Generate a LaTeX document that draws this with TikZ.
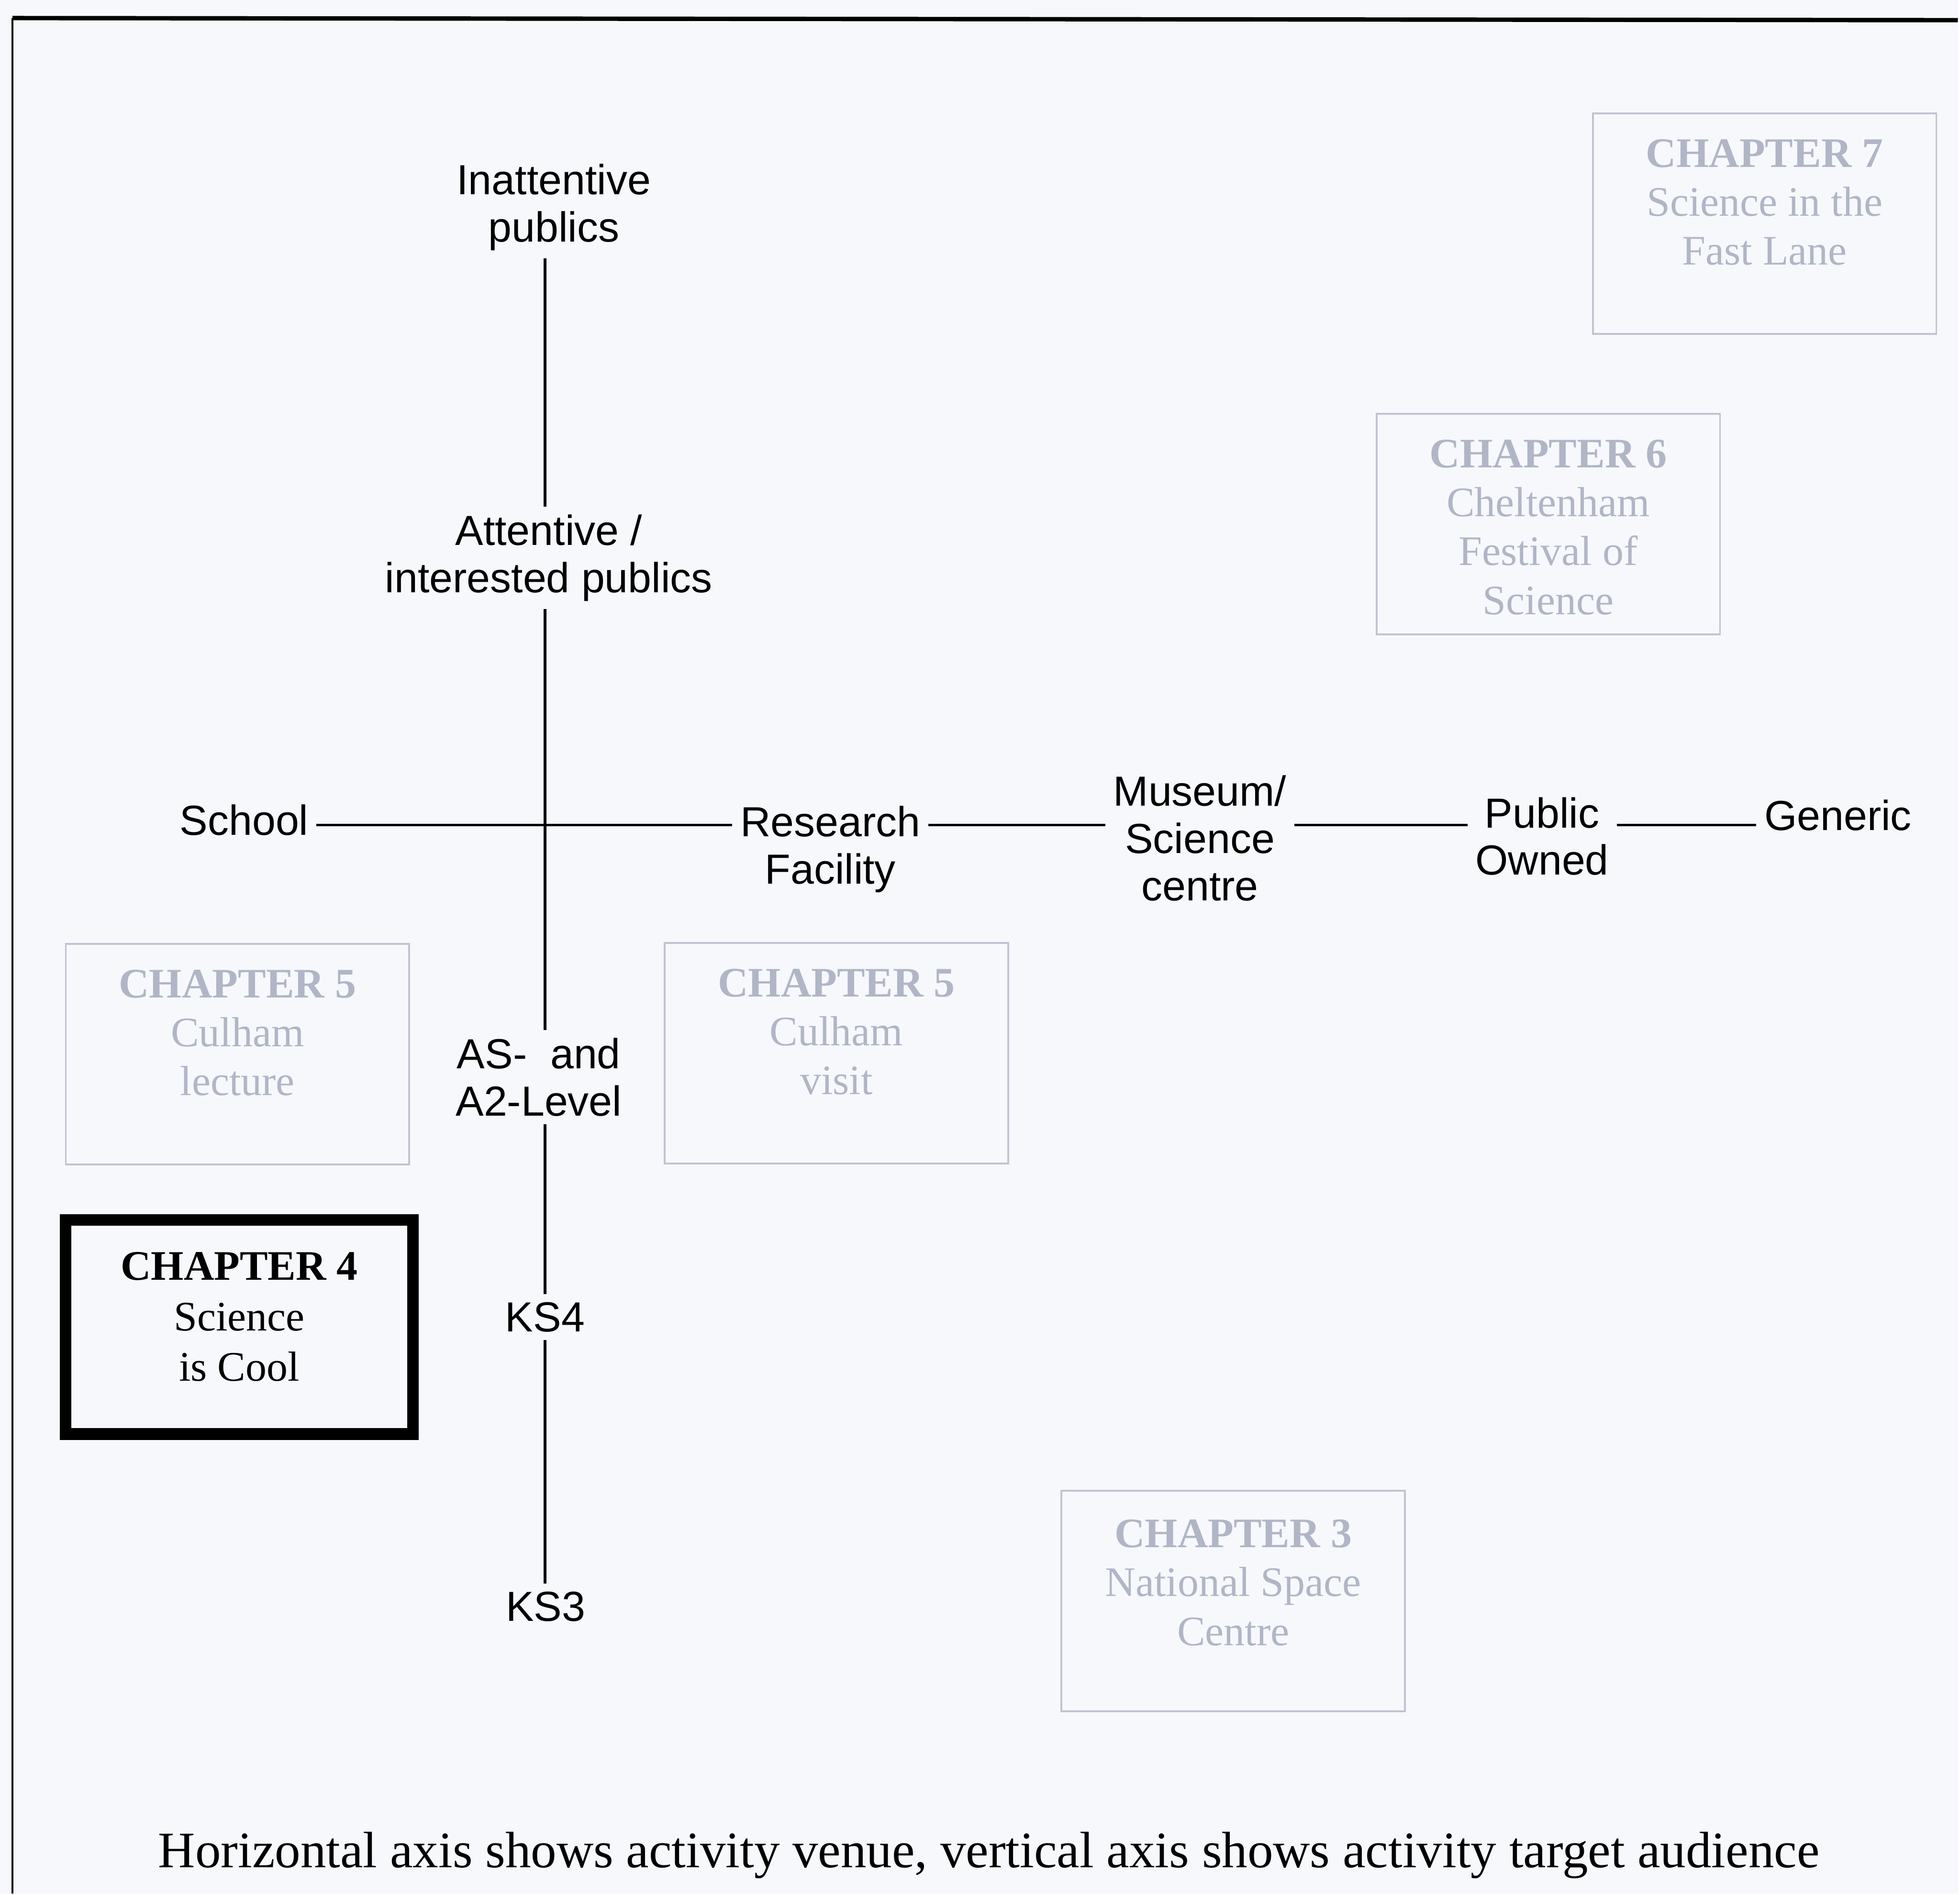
\documentclass[tikz,border=0pt]{standalone}
\usepackage{fontspec}
\setmainfont{Liberation Serif}
\setsansfont{Liberation Sans}
\usetikzlibrary{positioning}
\definecolor{paper}{RGB}{246,248,252}
\definecolor{fadetext}{RGB}{176,182,198}
\definecolor{fadeline}{RGB}{192,196,210}

\begin{document}
\begin{tikzpicture}[
    axislabel/.style={font=\sffamily\fontsize{11.5}{12.9}\selectfont, align=center, inner sep=2pt},
    axisline/.style={line width=0.7pt},
    chapbox/.style={draw=fadeline, line width=0.5pt, minimum width=3.3cm, minimum height=2.12cm},
    chaptext/.style={font=\fontsize{11.5}{13.4}\selectfont, align=center, inner sep=0pt, text=fadetext}
]
    % Page and frame
    \fill[paper] (0,0) rectangle (18.816,18.204);
    \draw[line width=1.2pt] (0.12,18.03) -- (18.816,18.01);
    \draw[line width=0.6pt] (0.12,18.03) -- (0.12,0);

    % Axis positions
    \coordinate (vx) at (5.238,0);
    \coordinate (hy) at (0,10.272);

    % Vertical axis: target audience
    \node[axislabel] (inatt) at (5.322,16.212) {Inattentive\\publics};
    \node[axislabel] (att) at (5.274,12.84) {Attentive /\\interested publics};
    \node[axislabel] (asa2) at (5.178,7.848) {AS-~ and\\A2-Level};
    \node[axislabel] (ks4) at (5.238,5.544) {KS4};
    \node[axislabel] (ks3) at (5.244,2.76) {KS3};
    \draw[axisline] (inatt.south -| vx) -- (att.north -| vx);
    \draw[axisline] (att.south -| vx) -- (asa2.north -| vx);
    \draw[axisline] (asa2.south -| vx) -- (ks4.north -| vx);
    \draw[axisline] (ks4.south -| vx) -- (ks3.north -| vx);

    % Horizontal axis: venue
    \node[axislabel] (school) at (2.346,10.32) {School};
    \node[axislabel] (research) at (7.98,10.04) {Research\\Facility};
    \node[axislabel] (museum) at (11.532,10.146) {Museum/\\Science\\centre};
    \node[axislabel] (public) at (14.82,10.164) {Public\\Owned};
    \node[axislabel] (generic) at (17.664,10.368) {Generic};
    \draw[axisline] (school.east |- hy) -- (research.west |- hy);
    \draw[axisline] (research.east |- hy) -- (museum.west |- hy);
    \draw[axisline] (museum.east |- hy) -- (public.west |- hy);
    \draw[axisline] (public.east |- hy) -- (generic.west |- hy);

    % Other chapters (faded)
    \node[chapbox] (ch7) at (16.959,16.054) {};
    \node[chaptext, below=0.25cm of ch7.north] (ch7txt) {\textbf{CHAPTER 7}\\Science in the\\Fast Lane};
    \node[chapbox] (ch6) at (14.88,13.166) {};
    \node[chaptext, below=0.25cm of ch6.north] (ch6txt) {\textbf{CHAPTER 6}\\Cheltenham\\Festival of\\Science};
    \node[chapbox] (ch5a) at (2.282,8.071) {};
    \node[chaptext, below=0.25cm of ch5a.north] (ch5atxt) {\textbf{CHAPTER 5}\\Culham\\lecture};
    \node[chapbox] (ch5b) at (8.039,8.08) {};
    \node[chaptext, below=0.25cm of ch5b.north] (ch5btxt) {\textbf{CHAPTER 5}\\Culham\\visit};
    \node[chapbox] (ch3) at (11.852,2.815) {};
    \node[chaptext, below=0.28cm of ch3.north] (ch3txt) {\textbf{CHAPTER 3}\\National Space\\Centre};

    % This chapter
    \node[chapbox, draw=black, line width=3.2pt, minimum width=3.34cm, minimum height=2.06cm] (ch4) at (2.3,5.448) {};
    \node[chaptext, text=black, font=\fontsize{11.5}{13.8}\selectfont, below=0.36cm of ch4.north] (ch4txt) {\textbf{CHAPTER 4}\\Science\\is Cool};

    % Caption
    \node[font=\fontsize{14}{16}\selectfont, inner sep=0pt] (caption) at (9.504,0.37) {Horizontal axis shows activity venue, vertical axis shows activity target audience};
\end{tikzpicture}
\end{document}
